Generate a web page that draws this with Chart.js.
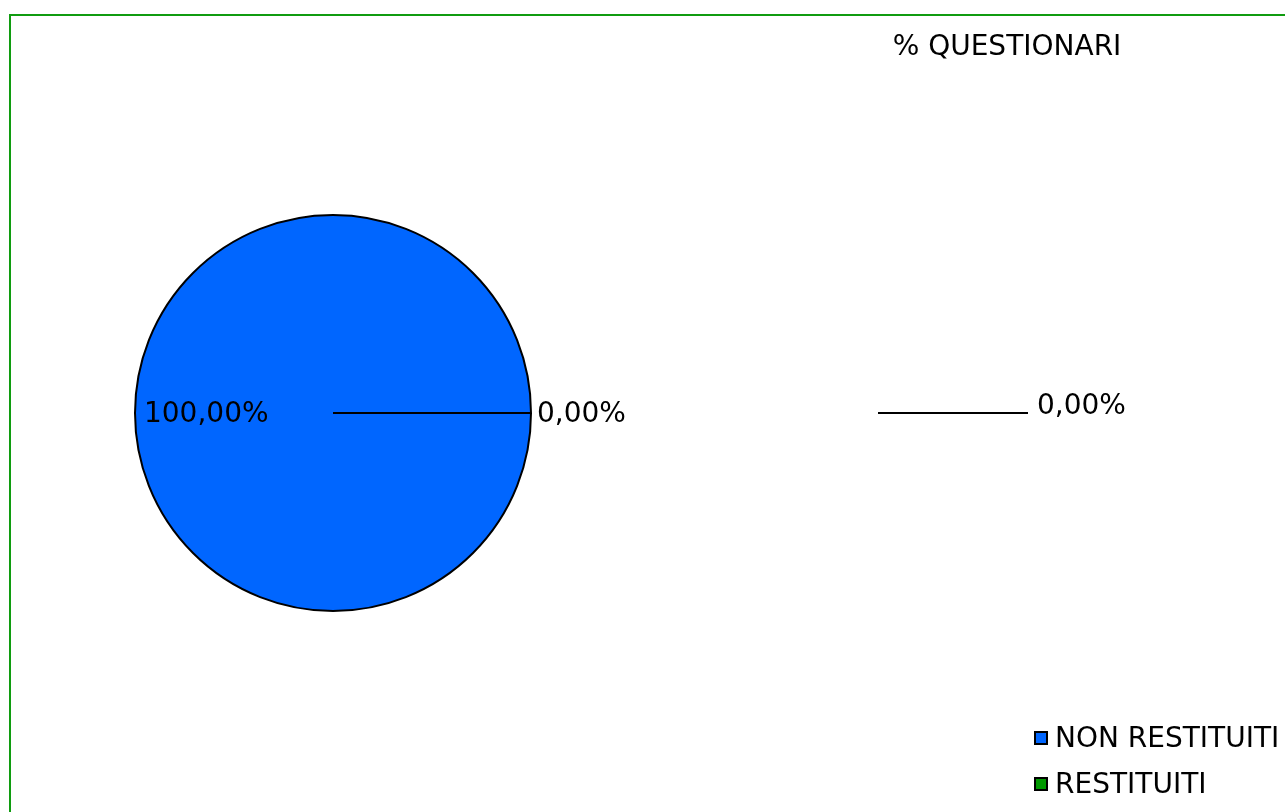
<!DOCTYPE html>
<html>
<head>
<meta charset="utf-8">
<script src="https://cdn.jsdelivr.net/npm/chart.js@4/dist/chart.umd.min.js"></script>
<style>
html,body{margin:0;padding:0;background:#fff;overflow:hidden;}
canvas{display:block;}
</style>
</head>
<body>
<canvas id="c" width="1285" height="812"></canvas>
<script>
const chartTitle = '% QUESTIONARI';
const categories = ['NON RESTITUITI', 'RESTITUITI'];
const percentValues = [100, 0];
const secondaryValues = [0];
const sliceColors = ['#0066ff', '#009900'];

const FONT = '28px "DejaVu Sans", Verdana, sans-serif';
const TY = 2; // small vertical text nudge
const fmt = v => v.toFixed(2).replace('.', ',') + '%';

const decorPlugin = {
  id: 'decor',
  beforeDraw(chart) {
    const ctx = chart.ctx;
    ctx.save();
    ctx.strokeStyle = '#109c10';
    ctx.lineWidth = 2;
    ctx.strokeRect(10, 15, 3000, 3000);
    ctx.restore();
  },
  afterDraw(chart) {
    const ctx = chart.ctx;
    ctx.save();
    ctx.font = FONT;
    ctx.fillStyle = '#000';
    // title
    ctx.textAlign = 'center';
    ctx.textBaseline = 'middle';
    ctx.fillText(chartTitle, 1007, 46 + TY);
    // slice labels
    const meta = chart.getDatasetMeta(0);
    meta.data.forEach((arc, i) => {
      const p = arc.getProps(['x', 'y', 'startAngle', 'endAngle', 'outerRadius'], true);
      const mid = (p.startAngle + p.endAngle) / 2;
      const v = percentValues[i];
      if (v >= 50) {
        const d = p.outerRadius * 0.64;
        ctx.textAlign = 'center';
        ctx.fillText(fmt(v), p.x + Math.cos(mid) * d, p.y + Math.sin(mid) * d + TY);
      } else {
        const d = p.outerRadius + 6;
        ctx.textAlign = 'left';
        ctx.fillText(fmt(v), p.x + Math.cos(mid) * d, p.y + Math.sin(mid) * d + TY);
      }
    });
    // secondary (empty) pie leader
    const cy = meta.data[0].y;
    ctx.strokeStyle = '#000';
    ctx.lineWidth = 2;
    ctx.beginPath();
    ctx.moveTo(878, cy);
    ctx.lineTo(1028, cy);
    ctx.stroke();
    ctx.textAlign = 'left';
    ctx.fillText(fmt(secondaryValues[0]), 1037, cy - 8 + TY);
    // legend
    categories.forEach((lab, i) => {
      const y = 738 + i * 46;
      ctx.fillStyle = sliceColors[i];
      ctx.fillRect(1035, y - 6, 12, 12);
      ctx.strokeStyle = '#000';
      ctx.lineWidth = 2;
      ctx.strokeRect(1035, y - 6, 12, 12);
      ctx.fillStyle = '#000';
      ctx.fillText(lab, 1055, y + TY);
    });
    ctx.restore();
  }
};

new Chart(document.getElementById('c'), {
  type: 'pie',
  data: {
    labels: categories,
    datasets: [{
      data: percentValues,
      backgroundColor: sliceColors,
      borderColor: '#000',
      borderWidth: 2
    }]
  },
  options: {
    responsive: false,
    animation: false,
    rotation: 90,
    radius: 198,
    layout: { padding: { left: 135, top: 215, right: 754, bottom: 201 } },
    plugins: {
      legend: { display: false },
      title: { display: false },
      tooltip: { enabled: false }
    }
  },
  plugins: [decorPlugin]
});
</script>
</body>
</html>
